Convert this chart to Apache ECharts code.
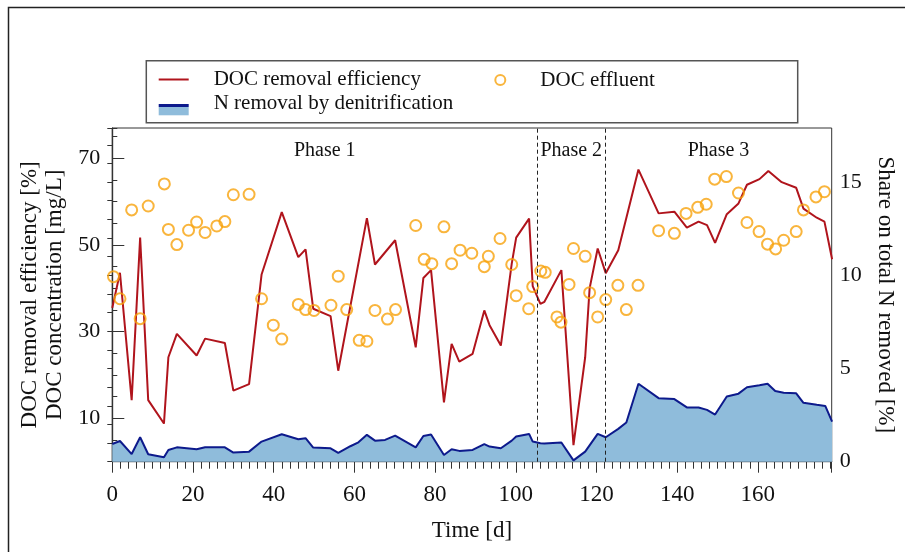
<!DOCTYPE html>
<html>
<head>
<meta charset="utf-8">
<script src="https://cdn.jsdelivr.net/npm/echarts@6/dist/echarts.min.js"></script>
<style>
html,body{margin:0;padding:0;background:#fff;}
#chart{width:905px;height:552px;}
</style>
</head>
<body>
<div id="chart"></div>
<script>
// ---- data ----
const daysEff = [0, 1.9, 4.8, 6.9, 8.9, 12.8, 13.9, 16, 20.9, 23, 27.9, 30, 33.9, 37, 42, 46.1, 47.9, 49.8, 54.1, 56, 63.1, 65.1, 70.1, 75.2, 77.1, 79, 82.2, 84.1, 86, 89.3, 92.2, 93.5, 96.3, 99, 100.1, 103.3, 104.2, 106.1, 107.1, 111.3, 114.3, 117.2, 118.3, 120.3, 122.3, 125.4, 130.4, 135.4, 139.3, 142.4, 145.3, 147.4, 149.4, 152.3, 155.2, 157.3, 160.4, 162.6, 165.9, 169.5, 171.3, 174.6, 176.5, 178.4];
const effVals = [35.5, 43.6, 14.2, 51.7, 14.2, 8.8, 24.1, 29.5, 24.5, 28.4, 27.4, 16.4, 17.9, 43.2, 57.6, 47.2, 49.0, 35.3, 33.6, 21.0, 56.2, 45.5, 51.1, 26.4, 42.4, 44.2, 13.7, 27.2, 23.1, 24.9, 34.9, 31.5, 26.8, 45.7, 51.7, 56.1, 40.5, 36.4, 36.9, 44.2, 3.8, 24.1, 40.0, 49.2, 43.5, 48.8, 67.4, 57.3, 57.7, 54.0, 55.4, 54.6, 50.5, 57.1, 59.6, 63.9, 65.2, 67.1, 64.5, 63.2, 58.4, 56.3, 55.4, 46.7];

const daysN = [0, 1.9, 4.8, 6.9, 8.9, 12.8, 13.9, 16, 20.9, 23, 27.9, 30, 33.9, 37, 42, 46.1, 47.9, 49.8, 54.1, 56, 59, 61, 63.1, 65.1, 67.6, 70.1, 75.2, 77.1, 79, 82.2, 84.1, 86, 89.3, 92.2, 93.5, 96.3, 99, 100.1, 103.3, 104.2, 106.1, 107.1, 111.3, 114.3, 117.2, 120.3, 122.3, 125.4, 127.4, 130.4, 135.4, 139.3, 142.4, 145.3, 147.4, 149.4, 152.3, 155.2, 157.3, 160.4, 162.4, 164.3, 166.4, 169.5, 171.3, 174.6, 176.7, 178.4];
const nVals = [0.95, 1.11, 0.41, 1.31, 0.40, 0.24, 0.63, 0.77, 0.67, 0.77, 0.77, 0.49, 0.54, 1.08, 1.47, 1.20, 1.26, 0.76, 0.72, 0.47, 0.83, 1.04, 1.44, 1.13, 1.17, 1.40, 0.77, 1.38, 1.46, 0.36, 0.67, 0.58, 0.63, 0.94, 0.81, 0.72, 1.13, 1.35, 1.49, 1.08, 0.99, 0.97, 1.03, 0.07, 0.54, 1.49, 1.31, 1.76, 2.10, 4.18, 3.41, 3.36, 2.91, 2.91, 2.78, 2.53, 3.50, 3.65, 3.99, 4.10, 4.18, 3.79, 3.70, 3.67, 3.16, 3.05, 2.99, 2.15];

const daysDoc = [0.3, 1.9, 4.8, 6.9, 8.9, 12.9, 13.9, 16, 18.9, 20.9, 23, 25.9, 27.9, 30, 33.9, 37, 39.9, 42, 46.1, 47.9, 50, 54.2, 56, 58.1, 61.2, 63.1, 65.1, 68.2, 70.2, 75.2, 77.3, 79.2, 82.2, 84.1, 86.2, 89.1, 92.2, 93.2, 96.1, 99, 100.1, 103.2, 104.2, 106.2, 107.3, 110.2, 111.2, 113.2, 114.3, 117.2, 118.3, 120.3, 122.3, 125.3, 127.4, 130.3, 135.4, 139.3, 142.2, 145.1, 147.2, 149.3, 152.2, 155.2, 157.3, 160.3, 162.4, 164.4, 166.4, 169.5, 171.3, 174.4, 176.5, 178.4];
const docVals = [42.7, 37.6, 58.1, 33.0, 59.0, 64.1, 53.6, 50.1, 53.4, 55.3, 52.9, 54.4, 55.4, 61.6, 61.7, 37.6, 31.5, 28.3, 36.3, 35.1, 34.9, 36.1, 42.8, 35.1, 28.0, 27.8, 34.9, 32.9, 35.1, 54.5, 46.7, 45.7, 54.2, 45.7, 48.8, 48.1, 45.0, 47.4, 51.5, 45.5, 38.3, 35.3, 40.4, 44.0, 43.7, 33.4, 32.2, 40.9, 49.2, 47.4, 39.0, 33.4, 37.4, 40.7, 35.1, 40.7, 53.3, 52.7, 57.3, 58.7, 59.4, 65.2, 65.8, 62.0, 55.2, 53.1, 50.2, 49.1, 51.1, 53.1, 58.1, 61.1, 62.3, 64.9];

const phaseBounds = [105.3, 122.2];
const phaseNames = ['Phase 1', 'Phase 2', 'Phase 3'];
const xLabelValues = [0, 20, 40, 60, 80, 100, 120, 140, 160];
const leftLabelValues = [10, 30, 50, 70];
const rightLabelValues = [0, 5, 10, 15];
const X_MAX = 178.3, LEFT_MAX = 77, RIGHT_MAX = 17.9;

// ---- build ----
const zip = (a, b) => a.map((v, i) => [v, b[i]]);
const minorX = [];
for (let d = 0; d <= X_MAX; d += 2) minorX.push(d);

const FONT = "'Liberation Serif', 'Times New Roman', serif";
const AX = '#333';
const RED = '#b0141c', NAVY = '#0d1a8c', LIGHT = '#8fbcdb', ORANGE = '#f7a30c';

const phaseEdges = [0, phaseBounds[0], phaseBounds[1], X_MAX];
const phaseAreas = phaseNames.map((n, i) => [{ xAxis: phaseEdges[i], name: n }, { xAxis: phaseEdges[i + 1] }]);

const chart = echarts.init(document.getElementById('chart'), null, { renderer: 'canvas' });
chart.setOption({
  animation: false,
  backgroundColor: '#fff',
  textStyle: { fontFamily: FONT, color: '#111' },
  grid: { left: 112.3, right: 73.3, top: 128, bottom: 90.3, show: true, borderColor: AX, borderWidth: 1, backgroundColor: 'transparent' },
  xAxis: [
    {
      type: 'value', position: 'bottom', min: 0, max: X_MAX, interval: 20,
      axisLine: { lineStyle: { color: AX, width: 1.2 } },
      axisTick: { show: true, inside: false, length: 11, lineStyle: { color: AX } },
      axisLabel: { customValues: xLabelValues, fontSize: 23, color: '#111', margin: 22, fontFamily: FONT },
      splitLine: { show: false },
      name: 'Time [d]', nameLocation: 'middle', nameGap: 58,
      nameTextStyle: { fontSize: 23, color: '#111', fontFamily: FONT }
    },
    {
      type: 'value', position: 'bottom', min: 0, max: X_MAX,
      axisLine: { show: false },
      axisTick: { show: true, inside: false, length: 7, customValues: minorX, lineStyle: { color: AX } },
      axisLabel: { show: false },
      splitLine: { show: false }
    }
  ],
  yAxis: [
    {
      type: 'value', position: 'left', min: 0, max: LEFT_MAX, interval: 5,
      axisLine: { show: true, lineStyle: { color: AX, width: 1.2 } },
      axisTick: { show: true, inside: true, length: 5, lineStyle: { color: AX } },
      axisLabel: { customValues: leftLabelValues, fontSize: 22, color: '#111', margin: 12, fontFamily: FONT },
      splitLine: { show: false },
      name: 'DOC removal efficiency [%]\nDOC concentration [mg/L]',
      nameLocation: 'middle', nameGap: 45,
      nameTextStyle: { fontSize: 23, lineHeight: 25, color: '#111', fontFamily: FONT, align: 'center' }
    },
    {
      type: 'value', position: 'right', min: 0, max: RIGHT_MAX, interval: 1,
      axisLine: { show: true, lineStyle: { color: AX, width: 1.2 } },
      axisTick: { show: true, inside: true, length: 5, lineStyle: { color: AX } },
      axisLabel: { customValues: rightLabelValues, fontSize: 22, color: '#111', margin: 8, fontFamily: FONT },
      splitLine: { show: false },
      name: 'Share on total N removed [%]',
      nameLocation: 'middle', nameGap: 42, nameRotate: -90,
      nameTextStyle: { fontSize: 23, color: '#111', fontFamily: FONT }
    },
    {
      type: 'value', position: 'left', min: 0, max: LEFT_MAX,
      axisLine: { show: false },
      axisTick: { show: true, inside: true, length: 12, customValues: leftLabelValues, lineStyle: { color: AX } },
      axisLabel: { show: false },
      splitLine: { show: false }
    }
  ],
  legend: [
    {
      data: [{ name: 'DOC removal efficiency', icon: 'rect', itemStyle: { color: RED, borderWidth: 0 } }],
      left: 158.7, top: 69, itemWidth: 30, itemHeight: 2, padding: 0,
      textStyle: { fontSize: 21, color: '#111', fontFamily: FONT, padding: [0, 0, 0, 20] }
    },
    {
      data: ['DOC effluent'], left: 494.3, top: 69.5, itemWidth: 10, itemHeight: 10, padding: 0,
      textStyle: { fontSize: 21, color: '#111', fontFamily: FONT, padding: [0, 0, 0, 30] }
    },
    {
      data: [{
        name: 'N removal by denitrification', icon: 'rect',
        itemStyle: {
          color: { type: 'linear', x: 0, y: 0, x2: 0, y2: 1, colorStops: [
            { offset: 0, color: 'rgba(255,255,255,0)' }, { offset: 0.54, color: 'rgba(255,255,255,0)' },
            { offset: 0.54, color: NAVY }, { offset: 0.64, color: NAVY },
            { offset: 0.64, color: LIGHT }, { offset: 1, color: LIGHT }] },
          borderWidth: 0
        }
      }],
      left: 158.7, top: 91.3, itemWidth: 30, itemHeight: 24, padding: 0,
      textStyle: { fontSize: 21, color: '#111', fontFamily: FONT, padding: [0, 0, 0, 20] }
    }
  ],
  graphic: [
    { type: 'polyline', shape: { points: [[8.5, 560], [8.5, 7.5], [910, 7.5]] }, style: { stroke: '#222', lineWidth: 1.5, fill: null }, silent: true },
    { type: 'rect', shape: { x: 146.3, y: 60.7, width: 651.4, height: 62 }, style: { stroke: '#555', lineWidth: 1.5, fill: 'transparent' }, silent: true }
  ],
  series: [
    {
      name: 'N removal by denitrification', type: 'line', xAxisIndex: 0, yAxisIndex: 1,
      data: zip(daysN, nVals), symbol: 'none', showSymbol: false, z: 1,
      lineStyle: { color: NAVY, width: 2 }, itemStyle: { color: NAVY },
      areaStyle: { color: LIGHT, opacity: 1 }
    },
    {
      name: 'DOC removal efficiency', type: 'line', xAxisIndex: 0, yAxisIndex: 0,
      data: zip(daysEff, effVals), symbol: 'none', showSymbol: false, z: 3,
      lineStyle: { color: RED, width: 2 }, itemStyle: { color: RED },
      markLine: {
        silent: true, symbol: 'none', animation: false,
        lineStyle: { color: '#222', type: [4, 3], width: 1 },
        label: { show: false },
        data: phaseBounds.map(b => ({ xAxis: b }))
      },
      markArea: {
        silent: true,
        itemStyle: { color: 'rgba(0,0,0,0)' },
        label: { show: true, position: 'insideTop', distance: 13, fontSize: 20, color: '#111', fontFamily: FONT },
        data: phaseAreas
      }
    },
    {
      name: 'DOC effluent', type: 'scatter', xAxisIndex: 0, yAxisIndex: 0,
      data: zip(daysDoc, docVals), symbol: 'circle', symbolSize: 11, z: 4,
      itemStyle: { color: 'rgba(255,255,255,0)', borderColor: ORANGE, borderWidth: 2 }
    }
  ]
});
</script>
</body>
</html>
